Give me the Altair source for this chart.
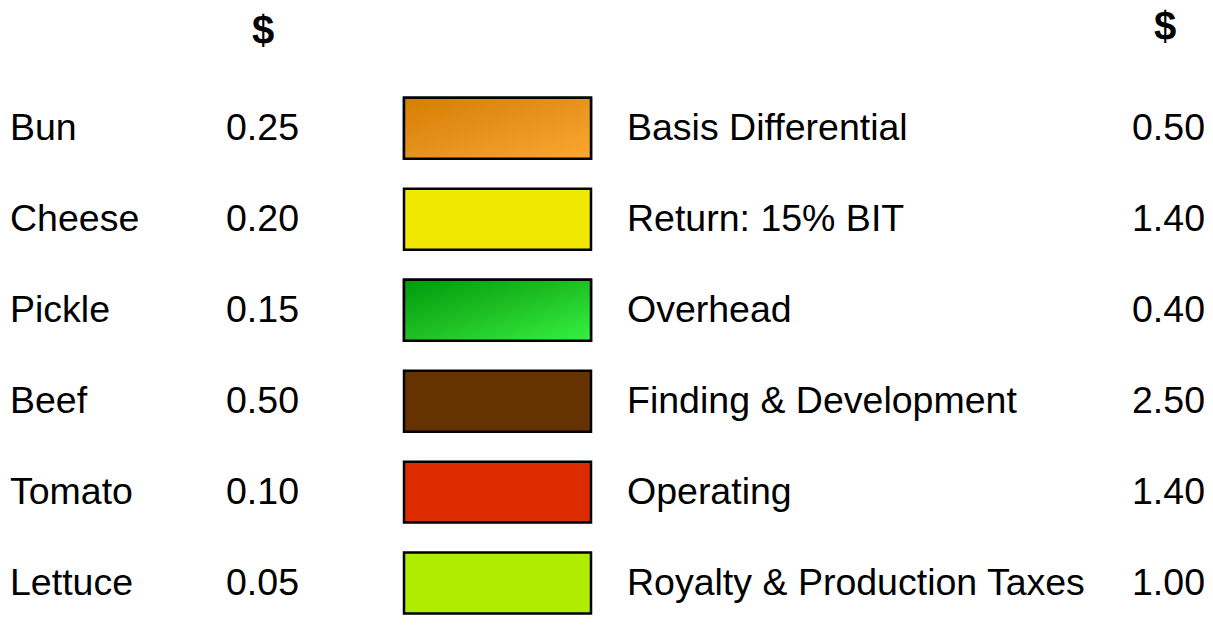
import altair as alt
import pandas as pd

left_items = ["Bun", "Cheese", "Pickle", "Beef", "Tomato", "Lettuce"]
left_values = ["0.25", "0.20", "0.15", "0.50", "0.10", "0.05"]
right_items = ["Basis Differential", "Return: 15% BIT", "Overhead",
               "Finding & Development", "Operating", "Royalty & Production Taxes"]
right_values = ["0.50", "1.40", "0.40", "2.50", "1.40", "1.00"]
box_colors = ["#e8921a", "#f0e800", "#1cb82a", "#663300", "#dd2c00", "#b0ec00"]
header = "$"

df = pd.DataFrame({
    "row": list(range(len(left_items))),
    "left_item": left_items,
    "left_value": left_values,
    "right_item": right_items,
    "right_value": right_values,
})

FONT = "Liberation Sans"
FS = 37.5

yscale = alt.Scale(domain=[-1.3117, 5.5269], reverse=True, nice=False, zero=False)
base = alt.Chart(df)

boxes = base.transform_calculate(
    top="datum.row - 0.335", bot="datum.row + 0.335"
).mark_rect(stroke="black", strokeWidth=2.5).encode(
    y=alt.Y("top:Q", scale=yscale, axis=None),
    y2="bot:Q",
    x=alt.value(396), x2=alt.value(583),
    fill=alt.Fill("left_item:N", scale=alt.Scale(domain=left_items, range=box_colors), legend=None),
)

orange_grad = alt.Gradient(
    gradient="linear", x1=0, y1=0, x2=1, y2=1,
    stops=[alt.GradientStop(color="#d67e00", offset=0),
           alt.GradientStop(color="#e4901c", offset=0.45),
           alt.GradientStop(color="#fca82f", offset=1)],
)
green_grad = alt.Gradient(
    gradient="linear", x1=0, y1=0, x2=1, y2=1,
    stops=[alt.GradientStop(color="#009a0c", offset=0),
           alt.GradientStop(color="#1cbc22", offset=0.45),
           alt.GradientStop(color="#36f240", offset=1)],
)

def grad_box(idx, grad):
    return base.transform_filter(alt.datum.row == idx).transform_calculate(
        top="datum.row - 0.335", bot="datum.row + 0.335"
    ).mark_rect(stroke="black", strokeWidth=2.5, fill=grad).encode(
        y=alt.Y("top:Q", scale=yscale, axis=None),
        y2="bot:Q",
        x=alt.value(396), x2=alt.value(583),
    )

def text_col(field, xpos, align):
    return base.mark_text(font=FONT, fontSize=FS, align=align, baseline="alphabetic",
                          dy=12, color="black").encode(
        y=alt.Y("row:Q", scale=yscale, axis=None),
        x=alt.value(xpos),
        text=f"{field}:N",
    )

hdr = pd.DataFrame({"h": [header]})
hdr_left = alt.Chart(hdr).mark_text(font=FONT, fontSize=40, fontWeight="bold",
                                    align="center", baseline="alphabetic").encode(
    x=alt.value(255), y=alt.value(35), text="h:N")
hdr_right = alt.Chart(hdr).mark_text(font=FONT, fontSize=40, fontWeight="bold",
                                     align="center", baseline="alphabetic").encode(
    x=alt.value(1157), y=alt.value(31), text="h:N")

chart = alt.layer(
    boxes,
    grad_box(0, orange_grad),
    grad_box(2, green_grad),
    text_col("left_item", 2, "left"),
    text_col("left_value", 291, "right"),
    text_col("right_item", 619, "left"),
    text_col("right_value", 1197, "right"),
    hdr_left, hdr_right,
).properties(
    width=1197, height=623, padding=0,
    autosize=alt.AutoSizeParams(type="fit", contains="padding"),
).configure_view(stroke=None)

chart.save("out.html", embed_options={"renderer": "svg", "actions": False})
